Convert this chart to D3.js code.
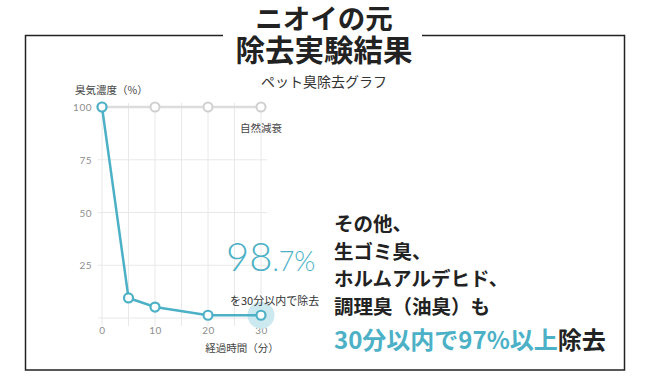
<!DOCTYPE html>
<html><head><meta charset="utf-8">
<script src="https://cdn.jsdelivr.net/npm/d3@7"></script>
<style>
html,body{margin:0;padding:0;background:#fff;}
svg{display:block;}
</style></head>
<body>
<svg id="c" width="649" height="387"></svg>
<script>
// ---- data ----
const titleLines = ["ニオイの元", "除去実験結果"];
const subtitle = "ペット臭除去グラフ";
const times = [0, 5, 10, 20, 30];
const petOdor = [100, 9.5, 5.2, 1.3, 1.3];
const naturalTimes = [0, 10, 20, 30];
const naturalDecay = [100, 100, 100, 100];
const yTicks = [25, 50, 75, 100];
const xTicks = [0, 10, 20, 30];
const xGrid = [0, 5, 10, 15, 20, 25, 30];
const yGrid = [0, 25, 50, 75, 100];
const noteLines = ["その他、", "生ゴミ臭、", "ホルムアルデヒド、", "調理臭（油臭）も"];

const svg = d3.select("#c");
const teal = "#4cb1c6";
const jp = "'Noto Sans CJK JP','Noto Sans',sans-serif";
const num = "Lato,'Noto Sans',sans-serif";

const x = d3.scaleLinear().domain([0, 30]).range([102, 261]);
const y = d3.scaleLinear().domain([0, 100]).range([318, 107]);

// frame with gap for title
const fr = {l: 25.5, r: 624.5, t: 35.5, b: 370};
svg.append("path")
  .attr("d", `M223,${fr.t}H${fr.l}V${fr.b}H${fr.r}V${fr.t}H422`)
  .attr("fill", "none").attr("stroke", "#222").attr("stroke-width", 1.5);

// title
svg.selectAll("text.title").data(titleLines).join("text")
  .attr("class", "title")
  .attr("x", 324).attr("y", (d, i) => 29 + i * 31.5)
  .attr("text-anchor", "middle")
  .attr("font-family", jp).attr("font-weight", 700)
  .attr("font-size", (d, i) => i === 0 ? 27.5 : 29.5)
  .attr("fill", "#222").text(d => d);

svg.append("text").attr("x", 324).attr("y", 87)
  .attr("text-anchor", "middle").attr("font-family", jp)
  .attr("font-size", 14).attr("fill", "#333").text(subtitle);

// grid
const g = svg.append("g");
g.selectAll("line.vg").data(xGrid).join("line")
  .attr("x1", d => x(d)).attr("x2", d => x(d))
  .attr("y1", y(100) - 4).attr("y2", y(0) + 8)
  .attr("stroke", "#e8e8e8").attr("stroke-width", 1);
g.selectAll("line.hg").data(yGrid).join("line")
  .attr("x1", x(0) - 4).attr("x2", x(30) + 6)
  .attr("y1", d => y(d)).attr("y2", d => y(d))
  .attr("stroke", "#e8e8e8").attr("stroke-width", 1);

// axes (tick labels via d3 axes)
const yAxis = svg.append("g").attr("transform", "translate(92,0)")
  .call(d3.axisLeft(y).tickValues(yTicks).tickSize(0).tickPadding(0));
const xAxis = svg.append("g").attr("transform", "translate(0,326)")
  .call(d3.axisBottom(x).tickValues(xTicks).tickSize(0).tickPadding(0));
[yAxis, xAxis].forEach(a => {
  a.select(".domain").remove();
  a.selectAll("text").attr("font-family", num).attr("font-size", 10)
    .attr("fill", "#8e8e8e").attr("letter-spacing", 0.5);
});
yAxis.selectAll("text").attr("dy", "0.35em");
xAxis.selectAll("text").attr("dy", "0.8em");

// axis titles
svg.append("text").attr("x", 75).attr("y", 94)
  .attr("font-family", jp).attr("font-size", 10.5).attr("fill", "#444")
  .text("臭気濃度（%）");
svg.append("text").attr("x", 242).attr("y", 351.5)
  .attr("text-anchor", "middle")
  .attr("font-family", jp).attr("font-size", 10.5).attr("fill", "#444")
  .text("経過時間（分）");

// natural decay series
const nat = naturalTimes.map((t, i) => [t, naturalDecay[i]]);
svg.append("path").datum(nat)
  .attr("d", d3.line().x(d => x(d[0])).y(d => y(d[1])))
  .attr("fill", "none").attr("stroke", "#dcdcdc").attr("stroke-width", 2.5);
svg.selectAll("circle.nat").data(nat).join("circle")
  .attr("cx", d => x(d[0])).attr("cy", d => y(d[1])).attr("r", 4.5)
  .attr("fill", "#fff").attr("stroke", "#d0d0d0").attr("stroke-width", 2);
svg.append("text").attr("x", x(30)).attr("y", 132)
  .attr("text-anchor", "middle").attr("font-family", jp)
  .attr("font-size", 10.5).attr("fill", "#444").text("自然減衰");

// pet odor series
const pet = times.map((t, i) => [t, petOdor[i]]);
const last = pet[pet.length - 1];
svg.append("circle").attr("cx", x(last[0])).attr("cy", y(last[1])).attr("r", 13.5)
  .attr("fill", "#cde9f0");
svg.append("path").datum(pet)
  .attr("d", d3.line().x(d => x(d[0])).y(d => y(d[1])))
  .attr("fill", "none").attr("stroke", teal).attr("stroke-width", 2.5);
svg.selectAll("circle.pet").data(pet).join("circle")
  .attr("cx", d => x(d[0])).attr("cy", d => y(d[1])).attr("r", 4.5)
  .attr("fill", "#fff").attr("stroke", teal).attr("stroke-width", 2.2);

// big figure
const big = svg.append("text").attr("x", 226).attr("y", 271)
  .attr("font-family", num).attr("font-weight", 300).attr("fill", teal);
big.append("tspan").attr("font-size", 40).text("98");
big.append("tspan").attr("font-size", 27).text(".7%");
svg.append("text").attr("x", 230).attr("y", 305)
  .attr("font-family", jp).attr("font-size", 11).attr("fill", "#333")
  .text("を30分以内で除去");

// right notes
svg.selectAll("text.note").data(noteLines).join("text")
  .attr("class", "note")
  .attr("x", 334).attr("y", (d, i) => 231 + i * 27.5)
  .attr("font-family", jp).attr("font-weight", 700).attr("font-size", 19.5)
  .attr("fill", "#222").text(d => d);
const fin = svg.append("text").attr("x", 334).attr("y", 349)
  .attr("font-family", jp).attr("font-weight", 700).attr("font-size", 24);
fin.append("tspan").attr("fill", teal).text("30分以内で97%以上");
fin.append("tspan").attr("fill", "#222").text("除去");
</script>
</body></html>
